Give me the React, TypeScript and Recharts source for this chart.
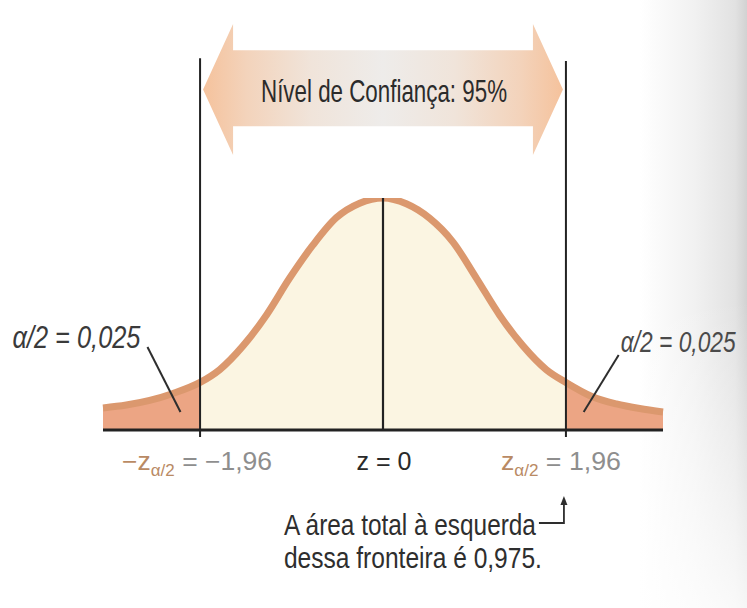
import React from 'react';
import {
  ComposedChart,
  Area,
  Line,
  XAxis,
  YAxis,
  ReferenceLine,
  ReferenceArea,
  ReferenceDot,
} from 'recharts';

// Standard-normal style bell curve sampled along z
const zValues = [
  -3, -2.75, -2.5, -2.25, -1.96, -1.75, -1.5, -1.25, -1, -0.75, -0.5, -0.25, 0,
  0.25, 0.5, 0.75, 1, 1.25, 1.5, 1.75, 1.96, 2.25, 2.5, 2.75, 3,
];
const density = [
  0.038, 0.043, 0.051, 0.063, 0.082, 0.104, 0.145, 0.198, 0.262, 0.319, 0.366, 0.391, 0.4,
  0.39, 0.365, 0.324, 0.262, 0.198, 0.145, 0.104, 0.082, 0.057, 0.045, 0.037, 0.031,
];

// Critical value and the texts drawn around it
const CRIT = 1.96;
const titleText = 'Nível de Confiança: 95%';
const alphaText = 'α/2 = 0,025';
const leftCritValue = ' = −1,96';
const rightCritValue = ' = 1,96';
const centerText = 'z = 0';
const noteLines = ['A área total à esquerda', 'dessa fronteira é 0,975.'];

// Vertical extents (in density units) of the guides and the double arrow
const GUIDE_TOP = 0.641;
const GUIDE_BOTTOM = -0.012;
const ARROW_TOP = 0.7;
const ARROW_BOTTOM = 0.474;
const TAIL_POINT = 0.031;

const rows = zValues.map((z, i) => {
  const d = density[i];
  return {
    z,
    curve: d,
    left: z <= -CRIT ? d : null,
    mid: z >= -CRIT && z <= CRIT ? d : null,
    right: z >= CRIT ? d : null,
  };
});

const W = 747;
const H = 608;
const STROKE = '#db986e';
const TAIL = '#eca584';
const MID = '#fbf5e2';
const INK = '#222222';
const BROWN = '#b98a64';
const GRAY = '#8e8e8e';
const FONT = '"Liberation Sans", Arial, sans-serif';

function ConfidenceArrow(props: any) {
  const { x, y, width, height } = props;
  const inset = 3;
  const left = x + inset;
  const right = x + width - inset;
  const head = 30;
  const top = y;
  const bottom = y + height;
  const mid = y + height / 2;
  const bodyTop = y + height * 0.2;
  const bodyBot = y + height * 0.78;
  const pts = [
    [left, mid],
    [left + head, top],
    [left + head, bodyTop],
    [right - head, bodyTop],
    [right - head, top],
    [right, mid],
    [right - head, bottom],
    [right - head, bodyBot],
    [left + head, bodyBot],
    [left + head, bottom],
  ]
    .map((p) => p.join(','))
    .join(' ');
  return (
    <g>
      <defs>
        <linearGradient id="arrowFill" x1="0" y1="0" x2="1" y2="0">
          <stop offset="0" stopColor="#f5c29c" />
          <stop offset="0.12" stopColor="#f3d3bb" />
          <stop offset="0.3" stopColor="#f0e4da" />
          <stop offset="0.5" stopColor="#eeecea" />
          <stop offset="0.7" stopColor="#f0e4da" />
          <stop offset="0.88" stopColor="#f3d3bb" />
          <stop offset="1" stopColor="#f5c29c" />
        </linearGradient>
      </defs>
      <polygon points={pts} fill="url(#arrowFill)" />
      <text
        x={(left + right) / 2 + 1}
        y={mid + 12}
        textAnchor="middle"
        fontFamily={FONT}
        fontSize={32}
        fill="#2b2b2b"
        textLength={246}
        lengthAdjust="spacingAndGlyphs"
      >
        {titleText}
      </text>
    </g>
  );
}

function LeftAlphaLabel(props: any) {
  const { cx, cy } = props;
  return (
    <g>
      <line x1={cx} y1={cy} x2={cx - 33} y2={cy - 65} stroke="#2e2e2e" strokeWidth={2} />
      <text
        x={cx - 168}
        y={cy - 64}
        fontFamily={FONT}
        fontSize={31}
        fill="#3a3a3a"
        fontStyle="italic"
        textLength={128}
        lengthAdjust="spacingAndGlyphs"
      >
        {alphaText}
      </text>
    </g>
  );
}

function RightAlphaLabel(props: any) {
  const { cx, cy } = props;
  return (
    <g>
      <line x1={cx} y1={cy} x2={cx + 35} y2={cy - 57} stroke="#2e2e2e" strokeWidth={2} />
      {/* condensed label kept inside the right edge */}
      <g transform={`translate(${cx + 37}, ${cy - 60}) scale(0.76, 1)`}>
        <text x={0} y={0} fontFamily={FONT} fontSize={30} fill="#4a4a4a" fontStyle="italic">
          {alphaText}
        </text>
      </g>
    </g>
  );
}

function LeftCritLabel(props: any) {
  const { cx, cy } = props;
  return (
    <text
      x={cx - 3}
      y={cy + 40}
      textAnchor="middle"
      fontFamily={FONT}
      fontSize={25}
      textLength={150}
      lengthAdjust="spacingAndGlyphs"
    >
      <tspan fill={BROWN}>−z</tspan>
      <tspan fill={BROWN} fontSize={16} dy={6}>
        α/2
      </tspan>
      <tspan fill={GRAY} dy={-6}>
        {leftCritValue}
      </tspan>
    </text>
  );
}

function RightCritLabel(props: any) {
  const { cx, cy } = props;
  return (
    <g>
      <text
        x={cx - 5}
        y={cy + 40}
        textAnchor="middle"
        fontFamily={FONT}
        fontSize={25}
        textLength={120}
        lengthAdjust="spacingAndGlyphs"
      >
        <tspan fill={BROWN}>z</tspan>
        <tspan fill={BROWN} fontSize={16} dy={6}>
          α/2
        </tspan>
        <tspan fill={GRAY} dy={-6}>
          {rightCritValue}
        </tspan>
      </text>
      {/* pointer from the note up to the critical value */}
      <path
        d={`M ${cx - 27} ${cy + 93} L ${cx - 2} ${cy + 93} L ${cx - 2} ${cy + 72}`}
        fill="none"
        stroke="#2e2e2e"
        strokeWidth={1.8}
      />
      <polygon
        points={`${cx - 5.5},${cy + 75} ${cx + 1.5},${cy + 75} ${cx - 2},${cy + 66}`}
        fill="#2e2e2e"
      />
      <text
        x={cx - 282}
        y={cy + 105}
        fontFamily={FONT}
        fontSize={30}
        fill="#2e2e2e"
        textLength={252}
        lengthAdjust="spacingAndGlyphs"
      >
        {noteLines[0]}
      </text>
      <text
        x={cx - 282}
        y={cy + 138}
        fontFamily={FONT}
        fontSize={30}
        fill="#2e2e2e"
        textLength={258}
        lengthAdjust="spacingAndGlyphs"
      >
        {noteLines[1]}
      </text>
    </g>
  );
}

function CenterLabel(props: any) {
  const { cx, cy } = props;
  return (
    <text
      x={cx + 1}
      y={cy + 40}
      textAnchor="middle"
      fontFamily={FONT}
      fontSize={25}
      fill="#2a2a2a"
      textLength={55}
      lengthAdjust="spacingAndGlyphs"
    >
      {centerText}
    </text>
  );
}

export default function App() {
  return (
    <div
      style={{
        position: 'absolute',
        left: 0,
        top: 0,
        width: W,
        height: H,
        background:
          'linear-gradient(180deg, rgba(255,255,255,0) 0px, rgba(255,255,255,0) 300px, rgba(255,255,255,0.8) 608px), linear-gradient(90deg, #ffffff 0px, #ffffff 640px, #f1f1f1 695px, #e2e2e2 735px, #d2d2d2 747px)',
      }}
    >
      <ComposedChart
        width={W}
        height={H}
        data={rows}
        margin={{ top: 198, right: 84, bottom: 178, left: 103 }}
      >
        <XAxis dataKey="z" type="number" domain={[-3, 3]} hide />
        <YAxis type="number" domain={[0, 0.4]} hide allowDataOverflow />

        <ReferenceArea
          x1={-CRIT}
          x2={CRIT}
          y1={ARROW_BOTTOM}
          y2={ARROW_TOP}
          ifOverflow="visible"
          shape={<ConfidenceArrow />}
        />

        <Area
          type="monotone"
          dataKey="left"
          stroke="none"
          fill={TAIL}
          fillOpacity={1}
          isAnimationActive={false}
          activeDot={false}
        />
        <Area
          type="monotone"
          dataKey="mid"
          stroke="none"
          fill={MID}
          fillOpacity={1}
          isAnimationActive={false}
          activeDot={false}
        />
        <Area
          type="monotone"
          dataKey="right"
          stroke="none"
          fill={TAIL}
          fillOpacity={1}
          isAnimationActive={false}
          activeDot={false}
        />
        <Line
          type="monotone"
          dataKey="curve"
          stroke={STROKE}
          strokeWidth={7}
          dot={false}
          activeDot={false}
          isAnimationActive={false}
        />

        <ReferenceLine y={0} stroke={INK} strokeWidth={3} />
        <ReferenceLine
          segment={[
            { x: 0, y: 0 },
            { x: 0, y: 0.4 },
          ]}
          stroke={INK}
          strokeWidth={2.2}
          ifOverflow="visible"
        />
        <ReferenceLine
          segment={[
            { x: -CRIT, y: GUIDE_BOTTOM },
            { x: -CRIT, y: GUIDE_TOP },
          ]}
          stroke={INK}
          strokeWidth={2}
          ifOverflow="visible"
        />
        <ReferenceLine
          segment={[
            { x: CRIT, y: GUIDE_BOTTOM },
            { x: CRIT, y: GUIDE_TOP - 0.005 },
          ]}
          stroke={INK}
          strokeWidth={2}
          ifOverflow="visible"
        />

        <ReferenceDot x={-2.17} y={TAIL_POINT} r={0} ifOverflow="visible" shape={<LeftAlphaLabel />} />
        <ReferenceDot x={2.15} y={TAIL_POINT} r={0} ifOverflow="visible" shape={<RightAlphaLabel />} />
        <ReferenceDot x={-CRIT} y={0} r={0} ifOverflow="visible" shape={<LeftCritLabel />} />
        <ReferenceDot x={0} y={0} r={0} ifOverflow="visible" shape={<CenterLabel />} />
        <ReferenceDot x={CRIT} y={0} r={0} ifOverflow="visible" shape={<RightCritLabel />} />
      </ComposedChart>
    </div>
  );
}
